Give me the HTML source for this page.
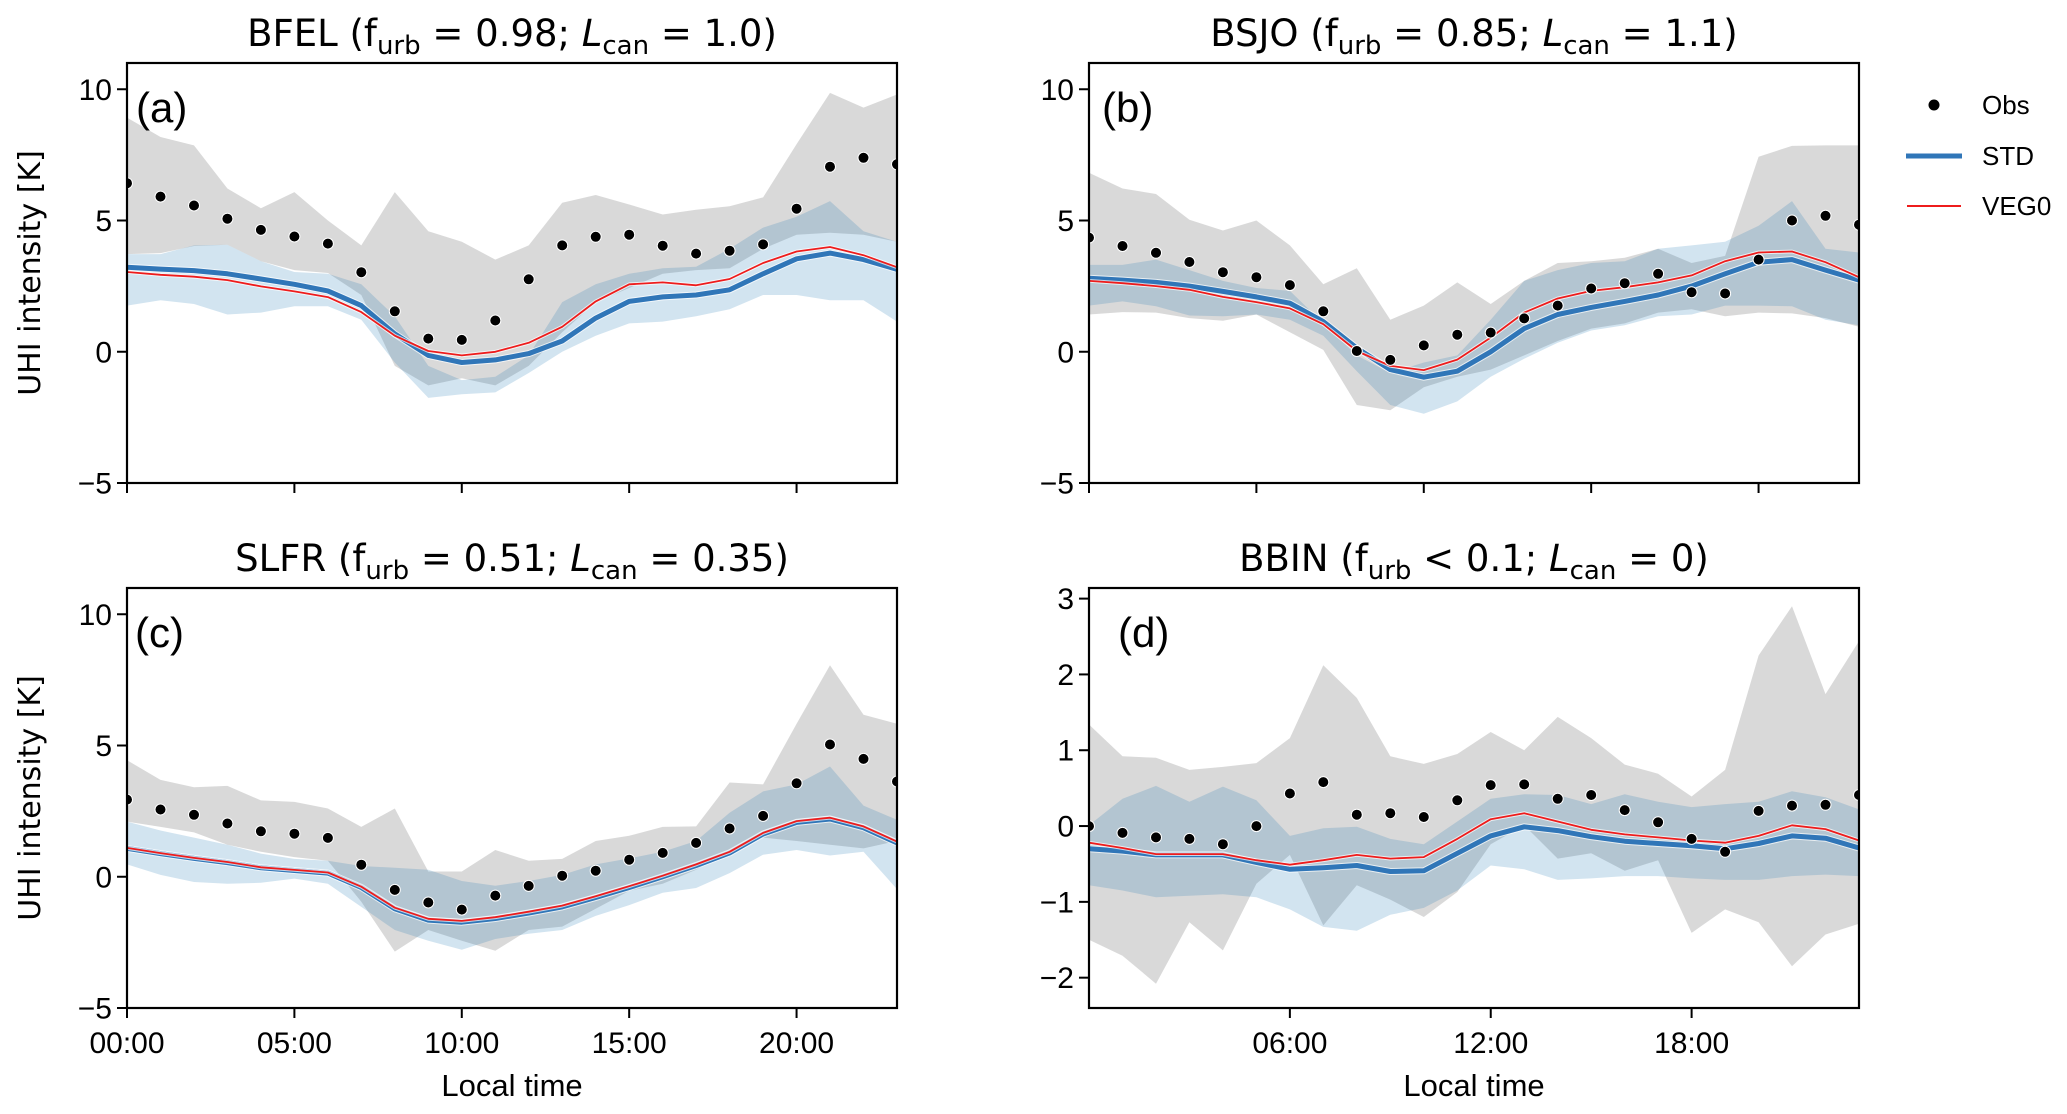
<!DOCTYPE html>
<html><head><meta charset="utf-8"><style>
html,body{margin:0;padding:0;background:#fff;}
svg{display:block;font-family:"Liberation Sans",Arial,sans-serif;}
</style></head><body>
<svg id="fig" xmlns="http://www.w3.org/2000/svg" width="2067" height="1114" viewBox="0 0 2067 1114"></svg>
<script>
const hours = [0,1,2,3,4,5,6,7,8,9,10,11,12,13,14,15,16,17,18,19,20,21,22,23];

// Panel (a) BFEL
const obsA = [6.42,5.91,5.57,5.07,4.64,4.39,4.12,3.03,1.54,0.50,0.45,1.19,2.76,4.05,4.38,4.46,4.04,3.74,3.85,4.09,5.45,7.05,7.39,7.14];
const stdA = [3.22,3.15,3.09,2.97,2.77,2.57,2.32,1.76,0.68,-0.14,-0.41,-0.31,-0.07,0.41,1.28,1.92,2.09,2.16,2.36,2.97,3.54,3.76,3.51,3.14];
const vegA = [3.04,2.93,2.86,2.73,2.49,2.30,2.08,1.51,0.61,0.03,-0.14,0,0.34,0.95,1.92,2.57,2.64,2.53,2.77,3.38,3.82,3.99,3.68,3.22];
const obsHiA = [8.92,8.18,7.86,6.22,5.47,6.08,5.0,4.05,6.08,4.59,4.19,3.51,4.05,5.68,5.97,5.61,5.23,5.41,5.54,5.88,7.91,9.86,9.3,9.8];
const obsLoA = [3.72,3.76,4.03,4.08,3.45,3.11,3.0,2.16,-0.54,-1.28,-1.01,-1.28,-0.54,0.74,1.89,2.43,2.97,3.11,3.18,3.92,4.46,4.53,4.46,4.19];
const stdHiA = [3.72,3.72,4.05,4.08,3.45,3.04,2.97,2.57,1.35,-0.54,-1.08,-0.95,-0.14,1.89,2.57,2.97,3.18,3.24,3.92,4.73,5.14,5.74,4.59,4.19];
const stdLoA = [1.76,1.96,1.82,1.42,1.49,1.73,1.73,1.22,-0.41,-1.76,-1.62,-1.55,-0.81,0,0.61,1.08,1.15,1.35,1.62,2.16,2.16,1.96,1.96,1.15];

// Panel (b) BSJO
const obsB = [4.35,4.03,3.77,3.42,3.03,2.84,2.54,1.54,0.03,-0.31,0.24,0.65,0.73,1.27,1.76,2.41,2.61,2.97,2.27,2.22,3.51,5.0,5.18,4.84];
const stdB = [2.80,2.73,2.64,2.5,2.3,2.09,1.85,1.15,0.14,-0.68,-0.97,-0.74,0,0.88,1.42,1.69,1.92,2.16,2.5,2.97,3.41,3.51,3.11,2.73];
const vegB = [2.7,2.61,2.5,2.36,2.09,1.89,1.65,1.05,0.03,-0.54,-0.7,-0.3,0.54,1.49,2.03,2.32,2.46,2.64,2.91,3.45,3.78,3.82,3.41,2.84];
const obsHiB = [6.82,6.22,6.01,5.03,4.62,5.0,4.05,2.57,3.18,1.22,1.76,2.64,1.82,2.70,3.38,3.45,3.58,3.92,3.38,3.65,7.43,7.84,7.86,7.86];
const obsLoB = [1.42,1.51,1.49,1.28,1.18,1.42,0.74,0.07,-2.03,-2.23,-1.35,-0.95,-0.68,-0.14,0.41,0.88,1.08,1.49,1.62,1.35,1.49,1.46,1.28,0.95];
const stdHiB = [3.31,3.31,3.51,3.11,2.7,2.43,2.32,1.08,-0.14,-0.81,-0.41,-0.14,1.22,2.7,3.11,3.38,3.45,3.92,4.05,4.19,4.8,5.74,3.92,3.78];
const stdLoB = [1.76,1.92,1.73,1.38,1.35,1.42,1.22,0.61,-0.74,-2.03,-2.36,-1.89,-0.95,-0.27,0.34,0.81,1.01,1.35,1.42,1.76,1.76,1.73,1.22,1.01];

// Panel (c) SLFR
const obsC = [2.94,2.56,2.36,2.03,1.73,1.64,1.48,0.46,-0.5,-0.98,-1.25,-0.72,-0.35,0.04,0.23,0.65,0.91,1.29,1.84,2.32,3.56,5.04,4.49,3.63];
const stdC = [1.08,0.88,0.70,0.54,0.34,0.24,0.14,-0.41,-1.22,-1.65,-1.73,-1.59,-1.38,-1.15,-0.79,-0.41,0,0.43,0.91,1.63,2.07,2.2,1.87,1.29];
const vegC = [1.1,0.9,0.72,0.56,0.36,0.26,0.16,-0.38,-1.18,-1.6,-1.68,-1.54,-1.33,-1.1,-0.74,-0.36,0.04,0.47,0.95,1.67,2.12,2.25,1.92,1.34];
const obsHiC = [4.44,3.69,3.41,3.46,2.91,2.85,2.60,1.9,2.6,0.2,0.2,1.02,0.61,0.68,1.36,1.56,1.9,1.92,3.59,3.52,5.83,8.06,6.17,5.83];
const obsLoC = [2.1,1.9,1.69,1.22,0.95,0.75,0.61,-0.95,-2.85,-2.03,-2.44,-2.82,-2.03,-1.90,-1.22,-0.54,-0.27,0.27,0.95,1.49,1.36,1.22,1.08,1.36];
const stdHiC = [2.1,1.76,1.49,1.22,0.88,0.68,0.61,0.41,0.34,0.27,-0.16,-0.34,-0.16,0.07,0.47,0.7,0.95,1.36,2.44,3.25,3.52,4.2,2.71,2.17];
const stdLoC = [0.47,0.07,-0.2,-0.27,-0.23,-0.07,-0.27,-1.15,-2.03,-2.44,-2.78,-2.37,-2.17,-2.03,-1.49,-1.08,-0.61,-0.43,0.14,0.84,1.02,0.81,0.95,-0.47];

// Panel (d) BBIN
const obsD = [0,-0.09,-0.15,-0.17,-0.24,0,0.43,0.58,0.15,0.17,0.12,0.34,0.54,0.55,0.36,0.41,0.21,0.05,-0.17,-0.34,0.2,0.27,0.28,0.41];
const stdD = [-0.3,-0.33,-0.38,-0.38,-0.38,-0.48,-0.57,-0.55,-0.52,-0.6,-0.59,-0.36,-0.13,-0.01,-0.06,-0.14,-0.2,-0.23,-0.26,-0.3,-0.23,-0.13,-0.16,-0.29];
const vegD = [-0.22,-0.29,-0.37,-0.37,-0.37,-0.45,-0.51,-0.45,-0.38,-0.43,-0.41,-0.17,0.09,0.17,0.06,-0.05,-0.11,-0.15,-0.19,-0.22,-0.13,0.01,-0.04,-0.19];
const obsHiD = [1.34,0.92,0.9,0.74,0.78,0.83,1.16,2.12,1.69,0.92,0.82,0.95,1.24,1.0,1.44,1.16,0.81,0.69,0.39,0.74,2.25,2.9,1.74,2.44];
const obsLoD = [-1.5,-1.71,-2.08,-1.27,-1.64,-0.76,-0.38,-1.31,-0.78,-0.97,-1.2,-0.87,-0.24,0.01,-0.43,-0.36,-0.59,-0.45,-1.41,-1.1,-1.27,-1.85,-1.43,-1.29];
const stdHiD = [0.01,0.36,0.53,0.32,0.52,0.34,-0.13,-0.03,-0.01,-0.17,-0.24,0.06,0.36,0.42,0.41,0.29,0.42,0.32,0.25,0.29,0.32,0.46,0.38,0.22];
const stdLoD = [-0.78,-0.85,-0.94,-0.92,-0.9,-0.94,-1.1,-1.33,-1.38,-1.17,-1.08,-0.85,-0.52,-0.57,-0.71,-0.69,-0.66,-0.66,-0.69,-0.71,-0.71,-0.66,-0.64,-0.66];

const yTicksABC = [-5,0,5,10];
const yTicksD = [-2,-1,0,1,2,3];
const xTicksABC = [0,5,10,15,20];
const xTicksD = [6,12,18];
const xTickLabelsABC = ["00:00","05:00","10:00","15:00","20:00"];
const xTickLabelsD = ["06:00","12:00","18:00"];

const NS = "http://www.w3.org/2000/svg";
const svg = document.getElementById('fig');
function mk(tag, attrs, parent){
  const e = document.createElementNS(NS, tag);
  for (const k in attrs) e.setAttribute(k, attrs[k]);
  (parent||svg).appendChild(e);
  return e;
}

const panels = [
  {id:'a', left:127, top:63, ymin:-5, ymax:11, yTicks:yTicksABC, xTicks:xTicksABC, xLabels:null,
   title:['BFEL (f','urb',' = 0.98; ','L','can',' = 1.0)'], lab:'(a)', labDx:9, obs:obsA, std:stdA, veg:vegA, oh:obsHiA, ol:obsLoA, sh:stdHiA, sl:stdLoA, ylabel:true},
  {id:'b', left:1089, top:63, ymin:-5, ymax:11, yTicks:yTicksABC, xTicks:xTicksABC, xLabels:null,
   title:['BSJO (f','urb',' = 0.85; ','L','can',' = 1.1)'], lab:'(b)', labDx:13, obs:obsB, std:stdB, veg:vegB, oh:obsHiB, ol:obsLoB, sh:stdHiB, sl:stdLoB, ylabel:false},
  {id:'c', left:127, top:588, ymin:-5, ymax:11, yTicks:yTicksABC, xTicks:xTicksABC, xLabels:xTickLabelsABC,
   title:['SLFR (f','urb',' = 0.51; ','L','can',' = 0.35)'], lab:'(c)', labDx:8, obs:obsC, std:stdC, veg:vegC, oh:obsHiC, ol:obsLoC, sh:stdHiC, sl:stdLoC, ylabel:true},
  {id:'d', left:1089, top:588, ymin:-2.4, ymax:3.14, yTicks:yTicksD, xTicks:xTicksD, xLabels:xTickLabelsD,
   title:['BBIN (f','urb',' < 0.1; ','L','can',' = 0)'], lab:'(d)', labDx:29, obs:obsD, std:stdD, veg:vegD, oh:obsHiD, ol:obsLoD, sh:stdHiD, sl:stdLoD, ylabel:false}
];
const W = 770, H = 420;

panels.forEach(p => {
  const g = mk('g', {});
  
  
  const xs = h => p.left + (h/23)*W;
  const ys = v => p.top + H - (v - p.ymin)/(p.ymax - p.ymin)*H;
  const clipId = 'clip' + p.id;
  const cp = mk('clipPath', {id: clipId}, g);
  mk('rect', {x:p.left, y:p.top, width:W, height:H}, cp);
  const plot = mk('g', {'clip-path':'url(#'+clipId+')'}, g);

  function band(hi, lo, fill, name){
    let d = '';
    hours.forEach((h,i)=>{ d += (i?'L':'M') + xs(h).toFixed(1) + ',' + ys(hi[i]).toFixed(1); });
    for (let i = hours.length-1; i >= 0; i--) d += 'L' + xs(hours[i]).toFixed(1) + ',' + ys(lo[i]).toFixed(1);
    const e = mk('path', {d: d+'Z', fill: fill, stroke:'none'}, plot);
    
    
  }
  band(p.oh, p.ol, 'rgba(128,128,128,0.3)', 'obs-range-band');
  band(p.sh, p.sl, 'rgba(31,119,180,0.2)', 'std-range-band');

  function line(vals, color, w, name){
    let d = '';
    hours.forEach((h,i)=>{ d += (i?'L':'M') + xs(h).toFixed(1) + ',' + ys(vals[i]).toFixed(1); });
    mk('path', {d:d, fill:'none', stroke:'rgba(255,255,255,0.7)', 'stroke-width':w+2, 'stroke-linejoin':'round'}, plot);
    const e = mk('path', {d:d, fill:'none', stroke:color, 'stroke-width':w, 'stroke-linejoin':'round'}, plot);
    
    
  }
  line(p.std, '#3076b8', 5, 'std-line');
  line(p.veg, '#ee1c1c', 1.8, 'veg0-line');

  hours.forEach((h,i)=>{
    const c = mk('circle', {cx:xs(h).toFixed(1), cy:ys(p.obs[i]).toFixed(1), r:5.5, fill:'#000', stroke:'#fff', 'stroke-width':1}, plot);
    
    
  });

  const frame = mk('rect', {x:p.left, y:p.top, width:W, height:H, fill:'none', stroke:'#000', 'stroke-width':2.2}, g);
  
  

  p.yTicks.forEach(v=>{
    const y = ys(v);
    mk('line', {x1:p.left-10, x2:p.left, y1:y, y2:y, stroke:'#000', 'stroke-width':2}, g);
    const t = mk('text', {x:p.left-15, y:y+10.5, 'text-anchor':'end', 'font-size':30, fill:'#000'}, g);
    t.textContent = v < 0 ? '\u2212' + Math.abs(v) : String(v);
    
    
  });
  p.xTicks.forEach((h,i)=>{
    const x = xs(h);
    mk('line', {x1:x, x2:x, y1:p.top+H, y2:p.top+H+10, stroke:'#000', 'stroke-width':2}, g);
    if (p.xLabels){
      const t = mk('text', {x:x, y:p.top+H+45, 'text-anchor':'middle', 'font-size':30, fill:'#000'}, g);
      t.textContent = p.xLabels[i];
      
      
    }
  });
  if (p.xLabels){
    const t = mk('text', {x:p.left+W/2, y:p.top+H+88, 'text-anchor':'middle', 'font-size':31, fill:'#000'}, g);
    t.textContent = 'Local time';
    
    
  }
  if (p.ylabel){
    const cy = p.top + 210;
    const t = mk('text', {x:0, y:0, transform:'translate(40,'+cy+') rotate(-90)', 'text-anchor':'middle', 'font-size':30, 'font-family':'"DejaVu Sans",sans-serif', fill:'#000'}, g);
    t.textContent = 'UHI intensity [K]';
    
    
  }
  const tt = mk('text', {x:p.left+W/2, y:p.top-17, 'text-anchor':'middle', 'font-size':37, 'font-family':'"DejaVu Sans",sans-serif', fill:'#000'}, g);
  
  
  const parts = p.title;
  const s1 = mk('tspan', {}, tt); s1.textContent = parts[0];
  const s2 = mk('tspan', {dy:8, 'font-size':26}, tt); s2.textContent = parts[1];
  const s3 = mk('tspan', {dy:-8}, tt); s3.textContent = parts[2];
  const s4 = mk('tspan', {'font-style':'italic'}, tt); s4.textContent = parts[3];
  const s5 = mk('tspan', {dy:8, 'font-size':26}, tt); s5.textContent = parts[4];
  const s6 = mk('tspan', {dy:-8}, tt); s6.textContent = parts[5];

  const lb = mk('text', {x:p.left+p.labDx, y:p.top+59, 'font-size':42, fill:'#000'}, g);
  lb.textContent = p.lab;
  
  
});

const lg = mk('g', {});


mk('circle', {cx:1934, cy:105, r:5.5, fill:'#000'}, lg);
mk('line', {x1:1906, x2:1962, y1:156, y2:156, stroke:'#3076b8', 'stroke-width':5}, lg);
mk('line', {x1:1907, x2:1961, y1:206, y2:206, stroke:'#ee1c1c', 'stroke-width':2}, lg);
[['Obs',114],['STD',165],['VEG0',215]].forEach(([s,y])=>{
  const t = mk('text', {x:1982, y:y, 'font-size':26, fill:'#000'}, lg);
  t.textContent = s;
  
  
});
</script>
</body></html>
